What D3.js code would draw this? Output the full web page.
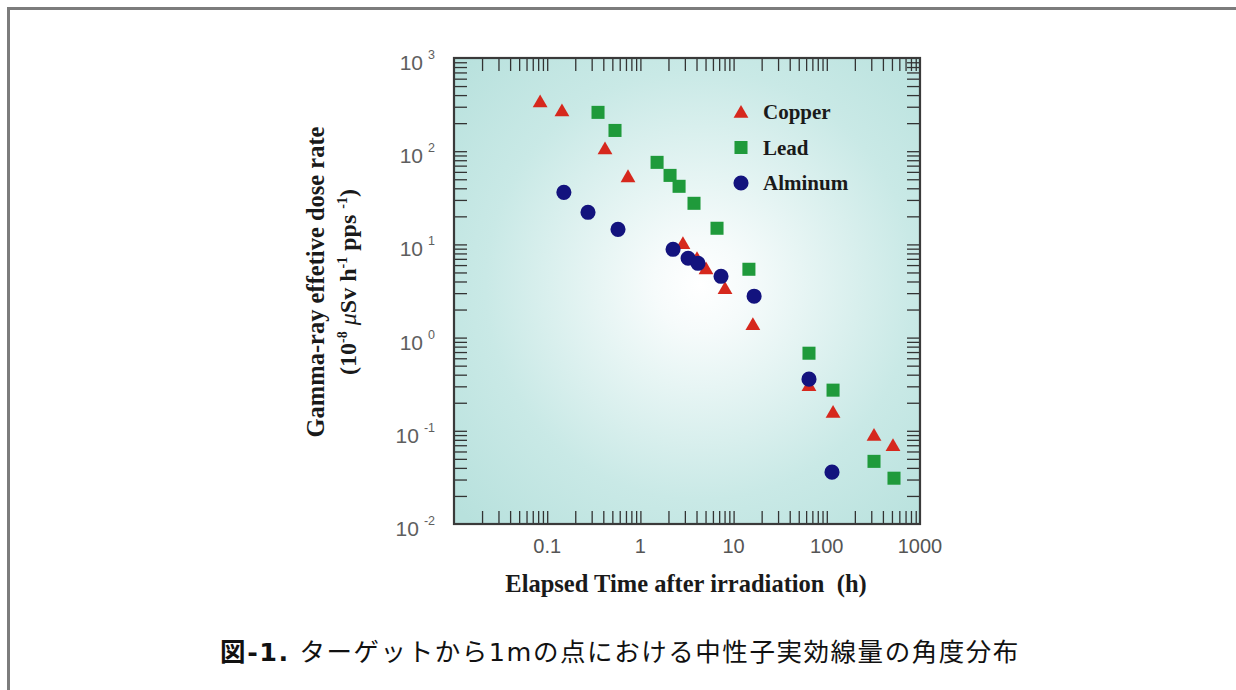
<!DOCTYPE html>
<html>
<head>
<meta charset="utf-8">
<script src="https://cdn.jsdelivr.net/npm/d3@7.9.0/dist/d3.min.js"></script>
<style>
  body { margin: 0; background: #fff; }
  svg { display: block; }
</style>
</head>
<body>
<svg id="chart"></svg>
<script>
// Data
const copperTime = [0.084, 0.144, 0.417, 0.736, 2.86, 4.05, 5.06, 8.09, 16.1, 64.4, 116.7, 321, 513];
const copperDose = [342, 273, 107, 53.7, 10.3, 7.1, 5.5, 3.38, 1.39, 0.309, 0.159, 0.09, 0.070];

const leadTime = [0.351, 0.534, 1.51, 2.08, 2.6, 3.76, 6.64, 14.6, 64.4, 116.7, 321, 526];
const leadDose = [261, 167, 75.9, 55, 42, 27.6, 14.9, 5.41, 0.68, 0.273, 0.047, 0.031];

const alTime = [0.151, 0.274, 0.575, 2.24, 3.25, 4.15, 7.33, 16.6, 64.4, 113.7];
const alDose = [36.2, 22.1, 14.5, 8.86, 7.1, 6.27, 4.55, 2.78, 0.358, 0.036];

const seriesNames = ['Copper', 'Lead', 'Alminum'];
const xTickValues = [0.1, 1, 10, 100, 1000];
const xTickLabels = ['0.1', '1', '10', '100', '1000'];
const yTickExponents = [-2, -1, 0, 1, 2, 3];

const width = 1236;
const height = 690;
const marginLeft = 454;
const marginRight = 316;   // plot right edge at 920
const marginTop = 58;
const marginBottom = 166;  // plot bottom at 524

const svg = d3.select('#chart')
  .attr('width', width)
  .attr('height', height)
  .attr('viewBox', [0, 0, width, height]);

// outer frame (runs off the right and bottom edges)
svg.append('path')
  .attr('d', `M${width + 10},8.5 H8.5 V${height + 10}`)
  .attr('fill', 'none')
  .attr('stroke', '#7c7c7c')
  .attr('stroke-width', 3);

const x = d3.scaleLog()
  .domain([0.01, 1000])
  .range([marginLeft, width - marginRight]);

const y = d3.scaleLog()
  .domain([0.01, 1000])
  .range([height - marginBottom, marginTop]);

// background gradient
const defs = svg.append('defs');
const grad = defs.append('radialGradient')
  .attr('id', 'bg')
  .attr('gradientUnits', 'userSpaceOnUse')
  .attr('cx', 700).attr('cy', 285).attr('r', 330);
grad.append('stop').attr('offset', 0).attr('stop-color', '#ffffff');
grad.append('stop').attr('offset', 0.14).attr('stop-color', '#f6fbfb');
grad.append('stop').attr('offset', 0.65).attr('stop-color', '#c9e9e6');
grad.append('stop').attr('offset', 1).attr('stop-color', '#b8e1dd');

svg.append('rect')
  .attr('x', x.range()[0])
  .attr('y', y.range()[1])
  .attr('width', x.range()[1] - x.range()[0])
  .attr('height', y.range()[0] - y.range()[1])
  .attr('fill', 'url(#bg)');

// minor + major tick positions: 1..9 x 10^k, ends excluded
const logTicks = [];
for (let k = -2; k <= 2; k++) {
  for (let m = 1; m <= 9; m++) {
    const v = m * Math.pow(10, k);
    if (v > 0.01 && v < 1000) logTicks.push(+v.toPrecision(3));
  }
}

const tickLen = 13;
const styleTicks = (g) => {
  g.select('.domain').remove();
  g.selectAll('.tick line').attr('stroke', '#333').attr('stroke-width', 1.3);
};

svg.append('g')
  .attr('transform', `translate(0,${y.range()[0]})`)
  .call(d3.axisBottom(x).tickValues(logTicks).tickSize(-tickLen).tickFormat(''))
  .call(styleTicks);
svg.append('g')
  .attr('transform', `translate(0,${y.range()[1]})`)
  .call(d3.axisTop(x).tickValues(logTicks).tickSize(-tickLen).tickFormat(''))
  .call(styleTicks);
svg.append('g')
  .attr('transform', `translate(${x.range()[0]},0)`)
  .call(d3.axisLeft(y).tickValues(logTicks).tickSize(-tickLen).tickFormat(''))
  .call(styleTicks);
svg.append('g')
  .attr('transform', `translate(${x.range()[1]},0)`)
  .call(d3.axisRight(y).tickValues(logTicks).tickSize(-tickLen).tickFormat(''))
  .call(styleTicks);

// plot border
svg.append('rect')
  .attr('x', x.range()[0])
  .attr('y', y.range()[1])
  .attr('width', x.range()[1] - x.range()[0])
  .attr('height', y.range()[0] - y.range()[1])
  .attr('fill', 'none')
  .attr('stroke', '#3a3a3a')
  .attr('stroke-width', 2.2);

// x tick labels
svg.append('g')
  .selectAll('text')
  .data(xTickValues)
  .join('text')
  .attr('x', (d) => x(d))
  .attr('y', y.range()[0] + 29)
  .attr('text-anchor', 'middle')
  .attr('font-family', 'Liberation Sans, Arial, sans-serif')
  .attr('font-size', 20)
  .attr('fill', '#555')
  .text((d, i) => xTickLabels[i]);

// y tick labels: 10^n
const yLab = svg.append('g')
  .selectAll('text')
  .data(yTickExponents)
  .join('text')
  .attr('x', 435)
  .attr('y', (d) => y(Math.pow(10, d)) + 12)
  .attr('text-anchor', 'end')
  .attr('font-family', 'Liberation Sans, Arial, sans-serif')
  .attr('font-size', 21)
  .attr('fill', '#5e5e5e');
yLab.append('tspan').text('10');
yLab.append('tspan')
  .attr('dx', 5)
  .attr('dy', -11)
  .attr('font-size', 12.5)
  .text((d) => d);

// markers
const sym = {
  Copper: { shape: d3.symbolTriangle, size: 95, color: '#d6281d' },
  Lead: { shape: d3.symbolSquare, size: 170, color: '#1f9a3b' },
  Alminum: { shape: d3.symbolCircle, size: 180, color: '#13137e' },
};

function drawSeries(name, times, doses) {
  const s = sym[name];
  svg.append('g')
    .selectAll('path')
    .data(times.map((t, i) => [t, doses[i]]))
    .join('path')
    .attr('transform', (d) => `translate(${x(d[0])},${y(d[1]) + (name === 'Copper' ? 1.5 : 0)})`)
    .attr('d', d3.symbol(s.shape, s.size))
    .attr('fill', s.color);
}
drawSeries('Lead', leadTime, leadDose);
drawSeries('Copper', copperTime, copperDose);
drawSeries('Alminum', alTime, alDose);

// legend
const legend = svg.append('g')
  .selectAll('g')
  .data(seriesNames)
  .join('g')
  .attr('transform', (d, i) => `translate(741,${112 + i * 35.5})`);
legend.append('path')
  .attr('d', (d) => d3.symbol(sym[d].shape, sym[d].size)())
  .attr('transform', (d) => d === 'Copper' ? 'translate(0,1.5)' : null)
  .attr('fill', (d) => sym[d].color);
legend.append('text')
  .attr('x', 22)
  .attr('y', 7)
  .attr('font-family', 'Liberation Serif, Times New Roman, serif')
  .attr('font-weight', 'bold')
  .attr('font-size', 21)
  .attr('fill', '#1a1a1a')
  .text((d) => d);

// axis titles
svg.append('text')
  .attr('x', 686)
  .attr('y', 592)
  .attr('text-anchor', 'middle')
  .attr('font-family', 'Liberation Serif, Times New Roman, serif')
  .attr('font-weight', 'bold')
  .attr('font-size', 24.5)
  .attr('fill', '#1a1a1a')
  .attr('xml:space', 'preserve')
  .text('Elapsed Time after irradiation  (h)');

const yTitle = svg.append('g')
  .attr('transform', 'translate(324,282) rotate(-90)')
  .attr('font-family', 'Liberation Serif, Times New Roman, serif')
  .attr('font-weight', 'bold')
  .attr('fill', '#1a1a1a')
  .attr('text-anchor', 'middle');
yTitle.append('text')
  .attr('font-size', 24.5)
  .text('Gamma-ray effetive dose rate');
const l2 = yTitle.append('text')
  .attr('y', 32)
  .attr('font-size', 24);
l2.append('tspan').text('(10');
l2.append('tspan').attr('dy', -9).attr('font-size', 14).text('-8');
l2.append('tspan').attr('dy', 9).text(' ');
l2.append('tspan').attr('font-style', 'italic').attr('font-weight', 'normal').text('μ');
l2.append('tspan').text('Sv h');
l2.append('tspan').attr('dy', -9).attr('font-size', 14).text('-1');
l2.append('tspan').attr('dy', 9).text(' pps ');
l2.append('tspan').attr('dy', -9).attr('font-size', 14).text('-1');
l2.append('tspan').attr('dy', 9).text(')');

// caption
const cap = svg.append('text')
  .attr('x', 620)
  .attr('y', 661)
  .attr('text-anchor', 'middle')
  .attr('font-family', 'DejaVu Sans, Noto Sans CJK JP, sans-serif')
  .attr('font-size', 25.5)
  .attr('letter-spacing', 1.55)
  .attr('fill', '#111');
cap.append('tspan').attr('font-weight', 'bold').text('図-1.');
cap.append('tspan').text(' ターゲットから1mの点における中性子実効線量の角度分布');
</script>
</body>
</html>
